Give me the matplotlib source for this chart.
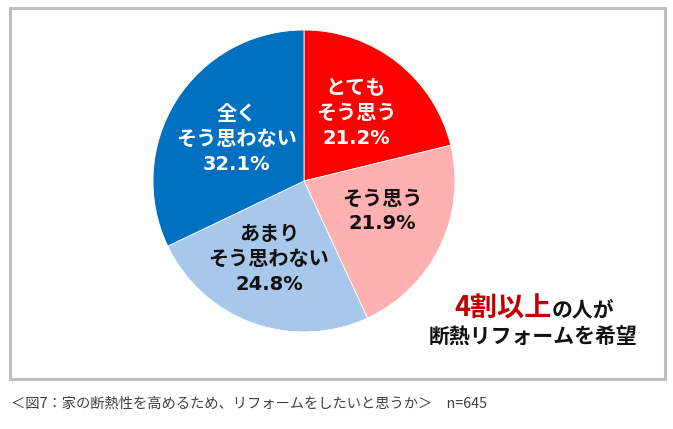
import matplotlib.pyplot as plt
from matplotlib.patches import Rectangle

plt.rcParams['font.family'] = ['Noto Sans CJK JP', 'DejaVu Sans']

# data
labels = ['とても\nそう思う', 'そう思う', 'あまり\nそう思わない', '全く\nそう思わない']
values = [21.2, 21.9, 24.8, 32.1]
colors = ['#FF0000', '#FFB1B1', '#A7C8EB', '#0070C0']
text_colors = ['white', '#111111', '#111111', 'white']
caption = '＜図7：家の断熱性を高めるため、リフォームをしたいと思うか＞　n=645'

W, H = 673, 429
fig = plt.figure(figsize=(W / 100, H / 100), dpi=100)

# gray frame
fig.patches.append(Rectangle((9.5 / W, 1 - 379 / H), 655 / W, 371.5 / H,
                             transform=fig.transFigure, fill=False,
                             edgecolor='#BFBFBF', linewidth=2.2))

# pie axes (center 304,181 px, radius 151 px)
cx, cy, r = 304, 181, 151
ax = fig.add_axes([(cx - r) / W, 1 - (cy + r) / H, 2 * r / W, 2 * r / H])
ax.pie(values, colors=colors, startangle=90, counterclock=False, radius=1,
       wedgeprops=dict(edgecolor='white', linewidth=0.6))
ax.set_xlim(-1, 1)
ax.set_ylim(-1, 1)
ax.axis('off')

# label centers in pixels (center x, first line y)
label_pos = [(356, 87), (382, 198), (269, 233), (237, 113)]
step = 25.5
for lab, v, (px, py), tc in zip(labels, values, label_pos, text_colors):
    lines = lab.split('\n')
    for i, ln in enumerate(lines):
        ax.text((px - cx) / r, (cy - (py + i * step)) / r, ln,
                ha='center', va='center', fontsize=14.5, fontweight='bold',
                color=tc)
    ax.text((px - cx) / r, (cy - (py + len(lines) * step)) / r, '%.1f%%' % v,
            ha='center', va='center', fontsize=14, fontweight='bold',
            color=tc, family=['DejaVu Sans', 'Noto Sans CJK JP'])

# annotation
fig.text(552 / W, 1 - 317 / H, '4割以上', ha='right', va='baseline',
         fontsize=19.5, fontweight='bold', color='#C00000')
fig.text(552 / W, 1 - 317 / H, 'の人が', ha='left', va='baseline',
         fontsize=15, fontweight='bold', color='#111111')
fig.text(533 / W, 1 - 344 / H, '断熱リフォームを希望', ha='center', va='baseline',
         fontsize=15, fontweight='bold', color='#111111')

# caption
fig.text(11 / W, 1 - 404 / H, caption, ha='left', va='center',
         fontsize=10.3, color='#404040')

fig.savefig('out.png', dpi=100)
